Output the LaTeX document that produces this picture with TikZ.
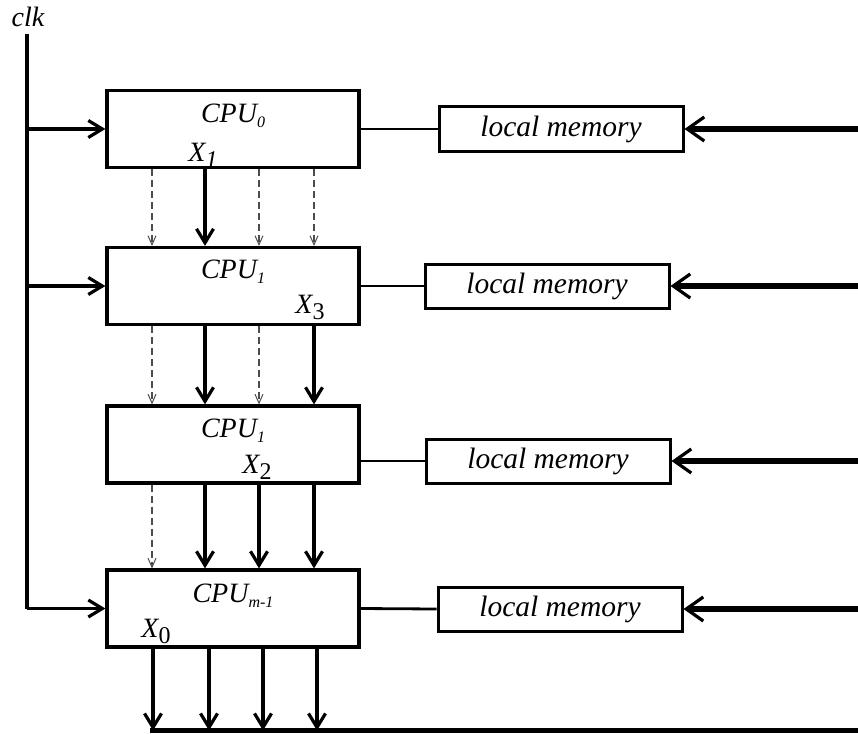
\documentclass[tikz,border=0pt]{standalone}
\usepackage{fontspec}
\setmainfont{Liberation Serif}
\usetikzlibrary{arrows.meta}

\begin{document}
\begin{tikzpicture}[x=1pt,y=-1pt,
  txt/.style={font=\itshape\fontsize{28}{28}\selectfont},
  cpubox/.style={draw,line width=3.2pt,minimum width=252pt,minimum height=77pt,inner sep=0pt},
  membox/.style={draw,line width=3pt,minimum width=244pt,minimum height=44pt,inner sep=0pt,font=\itshape\fontsize{29.5}{29.5}\selectfont},
  lbl/.style={anchor=base,inner sep=0pt,txt},
  wire/.style={line width=2.8pt},
  clkline/.style={line width=3.2pt},
  flow/.style={line width=3.2pt,-{Straight Barb[length=14pt,width=17pt,line width=3.2pt]}},
  weak/.style={line width=1.1pt,draw=black!70,dash pattern=on 7pt off 4pt,-{Straight Barb[length=9pt,width=8pt,line width=1pt]}},
  feed/.style={line width=5.5pt,-{Straight Barb[length=17pt,width=24pt,line width=3.2pt]}},
  bus/.style={line width=5pt}
]
\useasboundingbox (0,0) rectangle (858,733);

% processors
\node[cpubox] (cpu0) at (233,129) {};
\node[cpubox] (cpu1) at (233,286) {};
\node[cpubox] (cpu2) at (233,444.5) {};
\node[cpubox] (cpu3) at (233,608.5) {};

% labels inside the processors
\node[lbl] (n0) at (233,122) {CPU\raisebox{-5pt}{\fontsize{16}{16}\selectfont 0}};
\node[lbl] (x1) at (203,161) {X\raisebox{-6pt}{\fontsize{24}{24}\selectfont 1}};
\node[lbl] (n1) at (233,278) {CPU\raisebox{-5pt}{\fontsize{16}{16}\selectfont 1}};
\node[lbl] (x3) at (310,313) {X\raisebox{-6pt}{\fontsize{24}{24}\selectfont\upshape 3}};
\node[lbl] (n2) at (233,437) {CPU\raisebox{-5pt}{\fontsize{16}{16}\selectfont 1}};
\node[lbl] (x2) at (257,473) {X\raisebox{-6pt}{\fontsize{24}{24}\selectfont\upshape 2}};
\node[lbl] (n3) at (233,602) {CPU\raisebox{-5pt}{\fontsize{16}{16}\selectfont m-1}};
\node[lbl] (x0) at (156,637) {X\raisebox{-6pt}{\fontsize{24}{24}\selectfont\upshape 0}};

% local memories
\node[membox] (mem0) at (561,129) {local memory};
\node[membox] (mem1) at (547,286) {local memory};
\node[membox] (mem2) at (548,461) {local memory};
\node[membox] (mem3) at (560,609) {local memory};

% processor to memory links
\draw[wire] (cpu0.east) -- (mem0.west);
\draw[wire] (cpu1.east) -- (mem1.west);
\draw[wire] (cpu2.east |- mem2.west) -- (mem2.west);
\draw[wire] (cpu3.east) -- (mem3.west);

% external feeds into memories
\coordinate (f0) at (858,129);
\coordinate (f1) at (858,286);
\coordinate (f2) at (858,461);
\coordinate (f3) at (858,609);
\draw[feed] (f0) -- (mem0.east);
\draw[feed] (f1) -- (mem1.east);
\draw[feed] (f2) -- (mem2.east);
\draw[feed] (f3) -- (mem3.east);

% clock
\node[txt,inner sep=0pt] (clk) at (28,17) {clk};
\coordinate (ctop) at (27,34);
\coordinate (cbot) at (27,608.5);
\draw[clkline] (ctop) -- (cbot);
\draw[flow] (cpu0.west -| ctop) -- (cpu0.west);
\draw[flow] (cpu1.west -| ctop) -- (cpu1.west);
\draw[flow] (cbot) -- (cpu3.west);

% cpu0 -> cpu1
\draw[weak] (cpu0.south -| 152,0) -- (cpu1.north -| 152,0);
\draw[flow] (cpu0.south -| 205,0) -- (cpu1.north -| 205,0);
\draw[weak] (cpu0.south -| 259,0) -- (cpu1.north -| 259,0);
\draw[weak] (cpu0.south -| 314,0) -- (cpu1.north -| 314,0);

% cpu1 -> cpu2
\draw[weak] (cpu1.south -| 152,0) -- (cpu2.north -| 152,0);
\draw[flow] (cpu1.south -| 205,0) -- (cpu2.north -| 205,0);
\draw[weak] (cpu1.south -| 259,0) -- (cpu2.north -| 259,0);
\draw[flow] (cpu1.south -| 314,0) -- (cpu2.north -| 314,0);

% cpu2 -> cpu3
\draw[weak] (cpu2.south -| 152,0) -- (cpu3.north -| 152,0);
\draw[flow] (cpu2.south -| 205,0) -- (cpu3.north -| 205,0);
\draw[flow] (cpu2.south -| 259,0) -- (cpu3.north -| 259,0);
\draw[flow] (cpu2.south -| 314,0) -- (cpu3.north -| 314,0);

% output bus
\coordinate (busL) at (150,730.5);
\coordinate (busR) at (858,730.5);
\draw[bus] (busL) -- (busR);
\draw[flow] (cpu3.south -| 153,0) -- (busL -| 153,0);
\draw[flow] (cpu3.south -| 209,0) -- (busL -| 209,0);
\draw[flow] (cpu3.south -| 263,0) -- (busL -| 263,0);
\draw[flow] (cpu3.south -| 317,0) -- (busL -| 317,0);
\end{tikzpicture}
\end{document}
